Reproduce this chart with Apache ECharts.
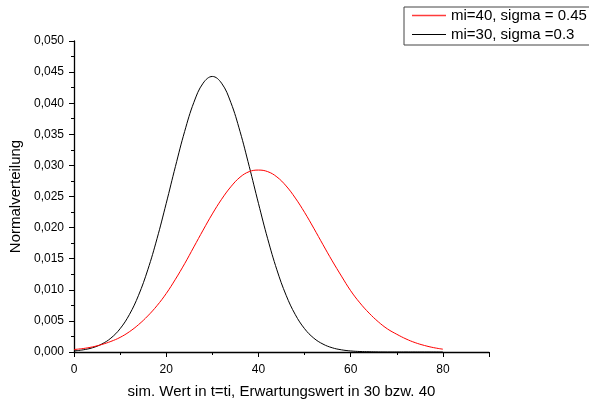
<!DOCTYPE html>
<html>
<head>
<meta charset="utf-8">
<script src="https://cdn.jsdelivr.net/npm/echarts@6/dist/echarts.min.js"></script>
<style>html,body{margin:0;padding:0;background:#fff}#c{width:589px;height:404px}</style>
</head>
<body>
<div id="c"></div>
<script>
const xValues = [0,2,4,6,8,10,12,14,16,18,20,22,24,26,28,30,32,34,36,38,40,42,44,46,48,50,52,54,56,58,60,62,64,66,68,70,72,74,76,78,80];
const redValues = [0.00040,0.00056,0.00082,0.00120,0.00170,0.00235,0.00325,0.00440,0.00580,0.00745,0.00940,0.01170,0.01420,0.01690,0.01960,0.02220,0.02455,0.02655,0.02810,0.02900,0.02925,0.02900,0.02815,0.02670,0.02475,0.02245,0.01990,0.01725,0.01465,0.01220,0.00985,0.00790,0.00625,0.00485,0.00370,0.00285,0.00210,0.00150,0.00105,0.00070,0.00045];
const blackValues = [0.00017,0.00035,0.00068,0.00127,0.00223,0.00375,0.00600,0.00912,0.01321,0.01821,0.02390,0.02984,0.03547,0.04014,0.04322,0.04430,0.04322,0.04014,0.03547,0.02984,0.02390,0.01821,0.01321,0.00912,0.00600,0.00375,0.00223,0.00127,0.00068,0.00035,0.00017,0.00008,0.00004,0.00001,0,0,0,0,0,0,0];
const seriesNames = ['mi=40, sigma = 0.45', 'mi=30, sigma =0.3'];
const xTickLabels = [0,20,40,60,80];
const xAxisTitle = 'sim. Wert in t=ti, Erwartungswert in 30 bzw. 40';
const yAxisTitle = 'Normalverteilung';

const font = '"Liberation Sans", Arial, sans-serif';
const chart = echarts.init(document.getElementById('c'), null, {renderer: 'canvas'});
const pairs = (vals) => xValues.map((x, i) => [x, vals[i]]);
chart.setOption({
  animation: false,
  backgroundColor: '#fff',
  textStyle: {fontFamily: font, color: '#000'},
  grid: {left: 74, right: 100, top: 41, bottom: 51, containLabel: false},
  legend: {
    orient: 'vertical', left: 404, top: 7,
    padding: [1, 60, 3, 8],
    itemWidth: 34, itemHeight: 15, itemGap: 4,
    borderColor: '#444', borderWidth: 1,
    textStyle: {fontFamily: font, fontSize: 15, color: '#000'},
    data: [
      {name: seriesNames[0], icon: 'path://M0,0 L34,0 L34,1.6 L0,1.6 Z', itemStyle: {color: '#ff3b3b'}},
      {name: seriesNames[1], icon: 'path://M0,0 L34,0 L34,1 L0,1 Z'}
    ]
  },
  xAxis: [{
    type: 'value', min: 0, max: 90, interval: 20,
    name: xAxisTitle, nameLocation: 'middle', nameGap: 32,
    nameTextStyle: {fontFamily: font, fontSize: 15, color: '#000'},
    axisLine: {show: true, onZero: false, lineStyle: {color: '#000', width: 1.3}},
    axisTick: {show: true, inside: false, length: 5, lineStyle: {color: '#000'}},
    axisLabel: {fontFamily: font, fontSize: 12, color: '#000', margin: 12,
      formatter: v => xTickLabels.includes(v) ? String(v) : ''},
    splitLine: {show: false}
  }, {
    type: 'value', min: 0, max: 90, interval: 10, position: 'bottom',
    axisLine: {show: false, onZero: false},
    axisTick: {show: true, inside: false, length: 3, lineStyle: {color: '#000'}},
    axisLabel: {show: false},
    splitLine: {show: false}
  }],
  yAxis: {
    type: 'value', min: 0, max: 0.05, interval: 0.005,
    name: yAxisTitle, nameLocation: 'middle', nameGap: 50, nameRotate: 90,
    nameTextStyle: {fontFamily: font, fontSize: 15, color: '#000'},
    axisLine: {show: true, onZero: false, lineStyle: {color: '#000', width: 1.3}},
    axisTick: {show: true, inside: false, length: 5, lineStyle: {color: '#000'}},
    minorTick: {show: true, splitNumber: 2, length: 3, lineStyle: {color: '#000'}},
    axisLabel: {fontFamily: font, fontSize: 12, color: '#000', margin: 10,
      formatter: v => v.toFixed(3).replace('.', ',')},
    splitLine: {show: false}
  },
  series: [
    {name: seriesNames[0], type: 'line', data: pairs(redValues), smooth: 0.4, symbol: 'none',
     xAxisIndex: 0, lineStyle: {color: '#ff0000', width: 1}, itemStyle: {color: '#ff0000'}, z: 3},
    {name: seriesNames[1], type: 'line', data: pairs(blackValues), smooth: 0.4, symbol: 'none',
     xAxisIndex: 0, lineStyle: {color: '#000000', width: 1}, itemStyle: {color: '#000000'}, z: 2}
  ]
});
</script>
</body>
</html>
